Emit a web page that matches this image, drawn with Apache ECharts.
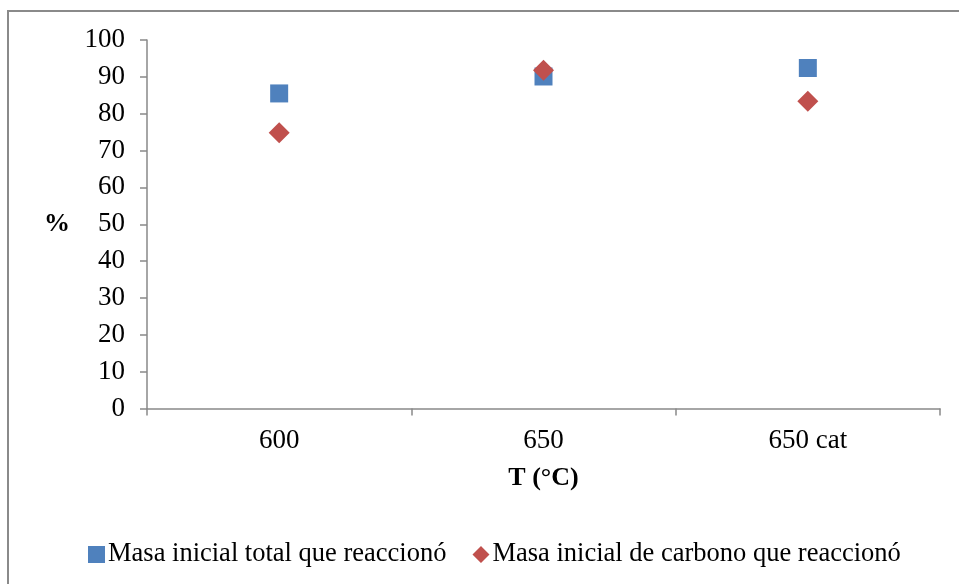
<!DOCTYPE html>
<html>
<head>
<meta charset="utf-8">
<script src="https://cdn.jsdelivr.net/npm/echarts@6/dist/echarts.min.js"></script>
<style>
  html, body { margin: 0; padding: 0; background: #fff; }
  #chart { width: 959px; height: 584px; }
</style>
</head>
<body>
<div id="chart"></div>
<script>
// Temperature conditions on the category axis
const categories = ['600', '650', '650 cat'];
// Percentage of initial mass that reacted
const masaTotal = [85.5, 90.1, 92.4];
// Percentage of initial carbon that reacted
const masaCarbono = [74.8, 91.8, 83.4];
const yTicks = { min: 0, max: 100, interval: 10 };

const serif = 'Liberation Serif, Times New Roman, serif';
const axisGray = '#898989';

const chart = echarts.init(document.getElementById('chart'), null, { renderer: 'canvas' });
chart.setOption({
  animation: false,
  backgroundColor: '#ffffff',
  graphic: [{
    type: 'rect',
    shape: { x: 8, y: 11, width: 1000, height: 1000 },
    style: { fill: 'none', stroke: '#8a8a8a', lineWidth: 2 },
    silent: true
  }],
  grid: { left: 147, right: 19, top: 40, bottom: 175.5, containLabel: false },
  xAxis: {
    type: 'category',
    data: categories,
    boundaryGap: true,
    name: 'T (°C)',
    nameLocation: 'middle',
    nameGap: 57,
    nameTextStyle: { fontFamily: serif, fontSize: 26, fontWeight: 'bold', color: '#000' },
    axisLine: { lineStyle: { color: axisGray, width: 1.5 } },
    axisTick: { show: true, length: 7, lineStyle: { color: axisGray, width: 1.5 } },
    axisLabel: { fontFamily: serif, fontSize: 27, color: '#000', margin: 19 },
    splitLine: { show: false }
  },
  yAxis: {
    type: 'value',
    min: yTicks.min,
    max: yTicks.max,
    interval: yTicks.interval,
    name: '%',
    nameLocation: 'middle',
    nameRotate: 0,
    nameGap: 77,
    nameTextStyle: { fontFamily: serif, fontSize: 26, fontWeight: 'bold', color: '#000' },
    axisLine: { show: true, lineStyle: { color: axisGray, width: 1.5 } },
    axisTick: { show: true, length: 7, lineStyle: { color: axisGray, width: 1.5 } },
    axisLabel: { fontFamily: serif, fontSize: 27, color: '#000', margin: 22 },
    splitLine: { show: false }
  },
  legend: {
    left: 83,
    top: 536,
    itemWidth: 17,
    itemHeight: 17,
    itemGap: 26,
    textStyle: { fontFamily: serif, fontSize: 26.5, color: '#000', padding: [0, 0, 0, -2] },
    data: [
      { name: 'Masa inicial total que reaccionó', icon: 'rect' },
      { name: 'Masa inicial de carbono que reaccionó', icon: 'diamond' }
    ]
  },
  series: [
    {
      name: 'Masa inicial total que reaccionó',
      type: 'scatter',
      symbol: 'rect',
      symbolSize: 18,
      itemStyle: { color: '#4F81BD', opacity: 1 },
      data: masaTotal
    },
    {
      name: 'Masa inicial de carbono que reaccionó',
      type: 'scatter',
      symbol: 'diamond',
      symbolSize: 21,
      itemStyle: { color: '#C0504D', opacity: 1 },
      data: masaCarbono
    }
  ]
});
</script>
</body>
</html>
